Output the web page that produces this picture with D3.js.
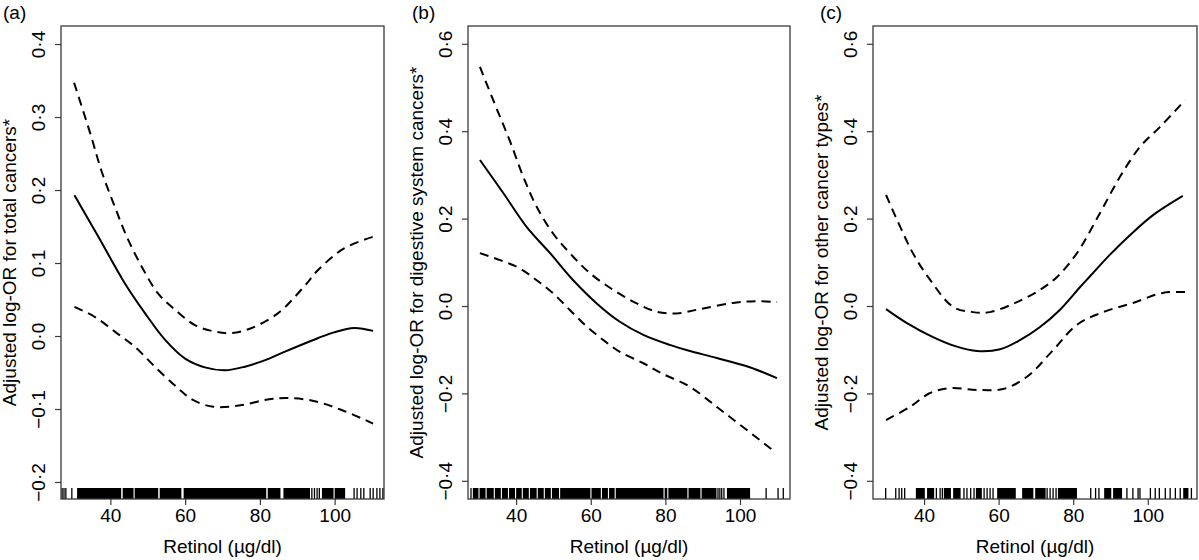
<!DOCTYPE html>
<html><head><meta charset="utf-8">
<script src="https://cdn.jsdelivr.net/npm/d3@7"></script>
<style>
html,body{margin:0;padding:0;background:#fff;}
text{font-family:"Liberation Sans",Arial,Helvetica,sans-serif;fill:#000;}
</style></head>
<body>
<svg id="chart" width="1199" height="560"></svg>
<script>
// ---------- data ----------
const panelLabels = ["(a)", "(b)", "(c)"];
const yTitles = [
  "Adjusted log-OR for total cancers*",
  "Adjusted log-OR for digestive system cancers*",
  "Adjusted log-OR for other cancer types*"
];
const xTitle = "Retinol (µg/dl)";
const xTicks = [40, 60, 80, 100];
const yTicksA = [-0.2, -0.1, 0.0, 0.1, 0.2, 0.3, 0.4];
const yTicksBC = [-0.4, -0.2, 0.0, 0.2, 0.4, 0.6];

// (a) total cancers
const estA = [[30.4,0.193],[36.8,0.136],[43.9,0.072],[49.3,0.031],[54.6,-0.005],[60.0,-0.031],[65.3,-0.043],[70.7,-0.047],[76.0,-0.042],[81.4,-0.033],[86.4,-0.022],[95.5,-0.003],[99.8,0.005],[105.2,0.011],[110.3,0.007]];
const upA  = [[30.3,0.347],[34.6,0.278],[37.7,0.225],[41.2,0.177],[44.4,0.136],[48.4,0.095],[52.8,0.058],[57.3,0.036],[62.6,0.015],[68.0,0.006],[72.5,0.004],[77.8,0.011],[84.8,0.031],[91.7,0.067],[95.5,0.090],[102.5,0.120],[110.3,0.136]];
const loA  = [[30.4,0.040],[35.9,0.026],[41.2,0.006],[46.6,-0.015],[51.9,-0.042],[58.2,-0.072],[62.2,-0.088],[67.6,-0.097],[74.8,-0.095],[82.1,-0.087],[87.4,-0.085],[94.4,-0.089],[101.7,-0.101],[110.3,-0.120]];
const rugBandsA = [[31.1,42.9],[43.3,46.2],[46.5,52.8],[53.2,59.0],[59.6,81.7],[82.1,85.5],[86.3,93.4],[96.6,99.7],[100.0,102.8]];
const rugTicksA = [27.1,27.6,28.1,29.7,93.9,94.6,95.3,95.9,105.2,106.0,107.0,107.8,109.5,110.3,111.3,112.1,112.9];

// (b) digestive system cancers
const estB = [[30.3,0.334],[36.6,0.258],[42.8,0.181],[49.1,0.121],[55.3,0.059],[61.6,0.006],[67.8,-0.036],[74.1,-0.066],[81.2,-0.089],[86.1,-0.102],[93.8,-0.119],[102.6,-0.140],[109.9,-0.165]];
const upB  = [[30.3,0.547],[34.9,0.449],[38.4,0.376],[41.9,0.296],[45.5,0.227],[49.9,0.166],[54.4,0.121],[59.8,0.075],[66.0,0.037],[72.3,0.006],[77.7,-0.013],[83.0,-0.017],[89.3,-0.007],[98.1,0.007],[104.5,0.011],[109.9,0.009]];
const loB  = [[30.3,0.121],[35.7,0.105],[41.0,0.086],[45.5,0.059],[49.9,0.029],[54.4,-0.009],[58.9,-0.047],[63.4,-0.078],[67.8,-0.105],[74.1,-0.131],[79.0,-0.154],[86.6,-0.185],[93.8,-0.231],[100.8,-0.277],[109.4,-0.334]];
const rugBandsB = [[28.4,29.9],[30.2,31.8],[32.1,34.0],[34.3,35.9],[36.2,37.8],[38.1,39.7],[40.0,41.5],[41.8,43.4],[43.7,45.5],[45.8,47.4],[47.7,49.3],[49.6,51.5],[51.8,59.9],[60.2,62.7],[63.0,64.6],[64.9,66.4],[66.7,79.5],[79.8,80.5],[80.8,85.9],[86.2,89.4],[89.7,93.7],[96.5,102.7]];
const rugTicksB = [27.9,94.1,94.6,95.1,95.7,107.0,110.2,111.6];

// (c) other cancer types
const estC = [[29.8,-0.007],[35.4,-0.039],[42.4,-0.071],[48.8,-0.093],[54.2,-0.103],[60.4,-0.099],[65.7,-0.078],[71.1,-0.048],[76.4,-0.009],[81.8,0.043],[84.5,0.068],[89.8,0.117],[95.2,0.162],[101.4,0.208],[109.4,0.252]];
const upC  = [[29.8,0.254],[33.6,0.181],[37.0,0.121],[41.1,0.066],[47.8,-0.002],[53.1,-0.014],[57.7,-0.014],[64.9,0.009],[71.1,0.037],[75.6,0.066],[81.0,0.121],[87.2,0.213],[92.5,0.295],[97.9,0.364],[103.3,0.410],[110.0,0.471]];
const loC  = [[29.8,-0.261],[36.2,-0.231],[41.6,-0.199],[47.0,-0.188],[54.2,-0.192],[61.2,-0.190],[67.6,-0.162],[74.6,-0.101],[81.0,-0.043],[88.0,-0.014],[96.0,0.007],[104.0,0.030],[110.0,0.032]];
const rugBandsC = [[37.8,40.2],[40.8,42.7],[45.3,47.2],[47.8,49.8],[53.9,55.5],[59.6,64.6],[66.3,69.3],[69.8,72.6],[75.9,81.0],[88.3,90.2],[90.7,93.1],[109.5,110.9]];
const rugTicksC = [29.7,32.4,33.3,34.0,34.8,43.3,44.3,44.9,50.7,51.5,52.5,53.4,56.1,56.9,57.7,58.5,73.0,73.8,74.6,75.4,84.7,86.0,86.9,94.4,96.0,97.4,97.9,100.7,102.0,103.1,104.7,106.0,107.4,108.7,111.7];

// ---------- layout ----------
const panels = [
  {label:panelLabels[0], title:yTitles[0], est:estA, up:upA, lo:loA, bands:rugBandsA, ticks:rugTicksA, yTicks:yTicksA,
   xDom:[26.8,113.2], yDom:[-0.2233,0.4247], left:61, right:384, labelX:3},
  {label:panelLabels[1], title:yTitles[1], est:estB, up:upB, lo:loB, bands:rugBandsB, ticks:rugTicksB, yTicks:yTicksBC,
   xDom:[27.1,113.4], yDom:[-0.4416,0.6407], left:468, right:790, labelX:412},
  {label:panelLabels[2], title:yTitles[2], est:estC, up:upC, lo:loC, bands:rugBandsC, ticks:rugTicksC, yTicks:yTicksBC,
   xDom:[26.3,113.2], yDom:[-0.4416,0.6407], left:873, right:1197, labelX:820}
];
const plotTop = 26, plotBottom = 499;
const fs = 19;
const boxColor = "#3a3a3a";

const fmt = v => {
  const s = Math.abs(v).toFixed(1).replace(".", "\u00B7");
  return (v < -1e-9 ? "\u2212" : "") + s;
};

const svg = d3.select("#chart");

panels.forEach(p => {
  const x = d3.scaleLinear().domain(p.xDom).range([p.left, p.right]);
  const y = d3.scaleLinear().domain(p.yDom).range([plotBottom, plotTop]);
  const g = svg.append("g");

  // rug (dense bands + single ticks)
  const rugH = 11;
  g.selectAll("rect.band").data(p.bands).enter().append("rect")
    .attr("x", d => x(d[0])).attr("width", d => x(d[1]) - x(d[0]))
    .attr("y", plotBottom - rugH).attr("height", rugH).attr("fill", "#000");
  g.selectAll("line.rug").data(p.ticks).enter().append("line")
    .attr("x1", d => x(d)).attr("x2", d => x(d))
    .attr("y1", plotBottom - rugH).attr("y2", plotBottom)
    .attr("stroke", "#000").attr("stroke-width", 1.3);

  // box
  g.append("rect").attr("x", p.left).attr("y", plotTop)
    .attr("width", p.right - p.left).attr("height", plotBottom - plotTop)
    .attr("fill", "none").attr("stroke", boxColor).attr("stroke-width", 1.3);

  // x axis
  const xa = g.append("g").attr("transform", `translate(0,${plotBottom})`)
    .call(d3.axisBottom(x).tickValues(xTicks).tickSize(6).tickPadding(4).tickFormat(d3.format("d")));
  xa.select(".domain").remove();
  xa.selectAll(".tick line").attr("stroke", boxColor).attr("stroke-width", 1.2);
  xa.selectAll(".tick text").attr("font-size", fs).attr("fill", "#000")
    .attr("font-family", "Liberation Sans, Arial, sans-serif");

  // y axis
  const ya = g.append("g").attr("transform", `translate(${p.left},0)`)
    .call(d3.axisLeft(y).tickValues(p.yTicks).tickSize(6).tickFormat(fmt));
  ya.select(".domain").remove();
  ya.selectAll(".tick line").attr("stroke", boxColor).attr("stroke-width", 1.2);
  ya.selectAll(".tick text")
    .attr("font-size", fs).attr("fill", "#000")
    .attr("font-family", "Liberation Sans, Arial, sans-serif")
    .attr("x", null).attr("dy", null)
    .attr("text-anchor", "middle")
    .attr("transform", "translate(-16,0) rotate(-90)");

  // curves
  const line = d3.line().x(d => x(d[0])).y(d => y(d[1])).curve(d3.curveCatmullRom.alpha(0.5));
  g.append("path").datum(p.up).attr("d", line).attr("fill", "none")
    .attr("stroke", "#000").attr("stroke-width", 2).attr("stroke-dasharray", "9,6");
  g.append("path").datum(p.lo).attr("d", line).attr("fill", "none")
    .attr("stroke", "#000").attr("stroke-width", 2).attr("stroke-dasharray", "9,6");
  g.append("path").datum(p.est).attr("d", line).attr("fill", "none")
    .attr("stroke", "#000").attr("stroke-width", 2);

  // titles
  g.append("text").attr("x", (p.left + p.right) / 2).attr("y", 553)
    .attr("text-anchor", "middle").attr("font-size", fs).text(xTitle);
  g.append("text")
    .attr("transform", `translate(${p.left - 45},${(plotTop + plotBottom) / 2}) rotate(-90)`)
    .attr("text-anchor", "middle").attr("font-size", fs).text(p.title);
  g.append("text").attr("x", p.labelX).attr("y", 19)
    .attr("font-size", fs).text(p.label);
});
</script>
</body></html>
